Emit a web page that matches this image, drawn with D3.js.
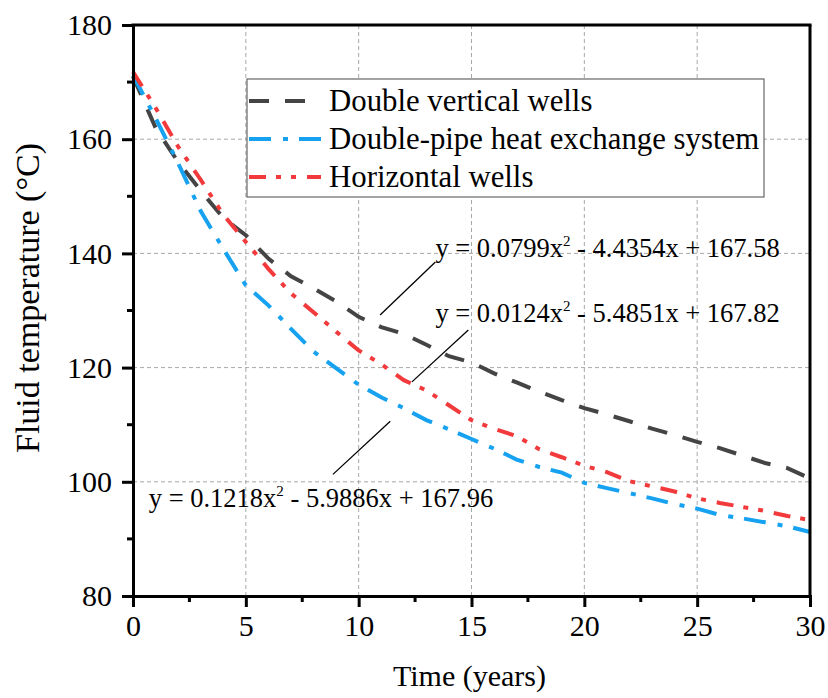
<!DOCTYPE html>
<html><head><meta charset="utf-8">
<script src="https://cdn.jsdelivr.net/npm/d3@7"></script>
<style>body{margin:0;background:#fff}svg{display:block}</style>
</head><body>
<svg id="c" width="828" height="698"></svg>
<script>
const years = d3.range(0, 31);
const verticalWells = [171,162,156,151,146.2,143.2,139.1,136,133.9,131.6,128.9,127.1,125.9,124,122,120.9,119,117.4,115.8,114.3,112.9,111.8,110.6,109.3,108.2,107,105.9,104.6,103.3,102.4,100.6];
const doublePipe = [171.2,163.7,155.8,147.4,140.8,134.4,130.9,126.8,122.8,119.9,117,114.8,112.9,110.8,109.2,107.5,105.8,103.9,102.6,101.6,99.8,98.9,98,97.1,96.1,95.3,94.2,93.6,92.9,92.2,91.2];
const horizontalWells = [171.8,165.5,158.7,152.9,146.8,142,137.3,133,129.7,126.3,123,120.6,117.8,116,113.4,110.8,109.3,108,105.7,104.3,102.8,101.7,100.1,99.2,98.3,97.1,96.3,95.6,94.9,94,93.3];
const seriesNames = ["Double vertical wells","Double-pipe heat exchange system","Horizontal wells"];
const xTicks = [0,5,10,15,20,25,30];
const yTicks = [80,100,120,140,160,180];
const xMinor = [2.5,7.5,12.5,17.5,22.5,27.5];
const yMinor = [90,110,130,150,170];
const equations = [
  {a:"y = 0.0799x", b:" - 4.4354x + 167.58"},
  {a:"y = 0.0124x", b:" - 5.4851x + 167.82"},
  {a:"y = 0.1218x", b:" - 5.9886x + 167.96"}
];
// leader line endpoints in data units [x1,y1,x2,y2]
const leaders = [[10.95,129.2,13.4,138.5],[12.36,117.5,14.86,126.6],[8.86,101.3,11.4,110.6]];
const eqAnchors = [[13.4,139.4],[13.4,128.0],[0.7,95.6]];

const svg = d3.select("#c");
const FONT = "'Liberation Serif','Times New Roman',serif";
const L=133, T=25, R=810, B=596;
const x = d3.scaleLinear().domain([0,30]).range([L,R]);
const y = d3.scaleLinear().domain([80,180]).range([B,T]);

// grid
const g = svg.append("g");
g.selectAll(".gx").data(xTicks.filter(d=>d>0&&d<30)).enter().append("line")
  .attr("x1",d=>x(d)).attr("x2",d=>x(d)).attr("y1",T).attr("y2",B)
  .attr("stroke","#a8a8a8").attr("stroke-width",1).attr("stroke-dasharray","4,3");
g.selectAll(".gy").data(yTicks.filter(d=>d>80&&d<180)).enter().append("line")
  .attr("y1",d=>y(d)).attr("y2",d=>y(d)).attr("x1",L).attr("x2",R)
  .attr("stroke","#a8a8a8").attr("stroke-width",1).attr("stroke-dasharray","4,3");

// series
const series = [
  {vals:verticalWells, color:"#444444", dash:"20,16"},
  {vals:doublePipe, color:"#16a2f0", dash:"22,12,5,11"},
  {vals:horizontalWells, color:"#f23a3c", dash:"17,10,5,10,5,11"}
];
const line = d3.line().x((d,i)=>x(years[i])).y(d=>y(d));
series.forEach(s=>{
  svg.append("path").attr("d",line(s.vals)).attr("fill","none")
    .attr("stroke",s.color).attr("stroke-width",4).attr("stroke-dasharray",s.dash);
});

// axes
const xAxis = d3.axisBottom(x).tickValues(xTicks).tickSize(11).tickPadding(5).tickFormat(d3.format("d"));
const yAxis = d3.axisLeft(y).tickValues(yTicks).tickSize(11).tickPadding(10).tickFormat(d3.format("d"));
const gx = svg.append("g").attr("transform",`translate(0,${B})`).call(xAxis);
const gy = svg.append("g").attr("transform",`translate(${L},0)`).call(yAxis);
[gx,gy].forEach(a=>{
  a.select(".domain").attr("stroke","#000").attr("stroke-width",3);
  a.selectAll(".tick line").attr("stroke","#000").attr("stroke-width",3);
  a.selectAll("text").attr("font-family",FONT).attr("font-size",30).attr("fill","#000");
});
gx.selectAll("text").attr("dy","0.8em");
svg.append("g").selectAll("line").data(xMinor).enter().append("line")
  .attr("x1",d=>x(d)).attr("x2",d=>x(d)).attr("y1",B).attr("y2",B+6).attr("stroke","#000").attr("stroke-width",3);
svg.append("g").selectAll("line").data(yMinor).enter().append("line")
  .attr("y1",d=>y(d)).attr("y2",d=>y(d)).attr("x1",L).attr("x2",L-6).attr("stroke","#000").attr("stroke-width",3);
// top & right frame
svg.append("line").attr("x1",L-1.5).attr("x2",R+1.5).attr("y1",T).attr("y2",T).attr("stroke","#000").attr("stroke-width",3);
svg.append("line").attr("x1",R).attr("x2",R).attr("y1",T).attr("y2",B).attr("stroke","#000").attr("stroke-width",3);

// axis titles
svg.append("text").attr("x",(L+R)/2 - 2).attr("y",686).attr("text-anchor","middle")
  .attr("font-family",FONT).attr("font-size",30).text("Time (years)");
svg.append("text").attr("transform",`translate(39,298) rotate(-90)`).attr("text-anchor","middle")
  .attr("font-family",FONT).attr("font-size",34).text("Fluid temperature (°C)");

// legend
const lg = svg.append("g");
lg.append("rect").attr("x",247).attr("y",79).attr("width",517).attr("height",118)
  .attr("fill","#fff").attr("stroke","#666").attr("stroke-width",1.2);
series.forEach((s,i)=>{
  const cy = 101 + i*38;
  lg.append("line").attr("x1",249).attr("x2",321).attr("y1",cy).attr("y2",cy)
    .attr("stroke",s.color).attr("stroke-width",4).attr("stroke-dasharray",s.dash);
  lg.append("text").attr("x",329).attr("y",cy+10).attr("font-family",FONT).attr("font-size",30.8)
    .text(seriesNames[i]);
});

// equations and leaders
leaders.forEach(l=>{
  svg.append("line").attr("x1",x(l[0])).attr("y1",y(l[1])).attr("x2",x(l[2])).attr("y2",y(l[3]))
    .attr("stroke","#000").attr("stroke-width",1.3);
});
equations.forEach((e,i)=>{
  const t = svg.append("text").attr("x",x(eqAnchors[i][0])).attr("y",y(eqAnchors[i][1]))
    .attr("font-family",FONT).attr("font-size",26.5).attr("fill","#000");
  t.append("tspan").text(e.a);
  t.append("tspan").attr("font-size",15).attr("dy",-11).text("2");
  t.append("tspan").attr("dy",11).text(e.b);
});
</script>
</body></html>
